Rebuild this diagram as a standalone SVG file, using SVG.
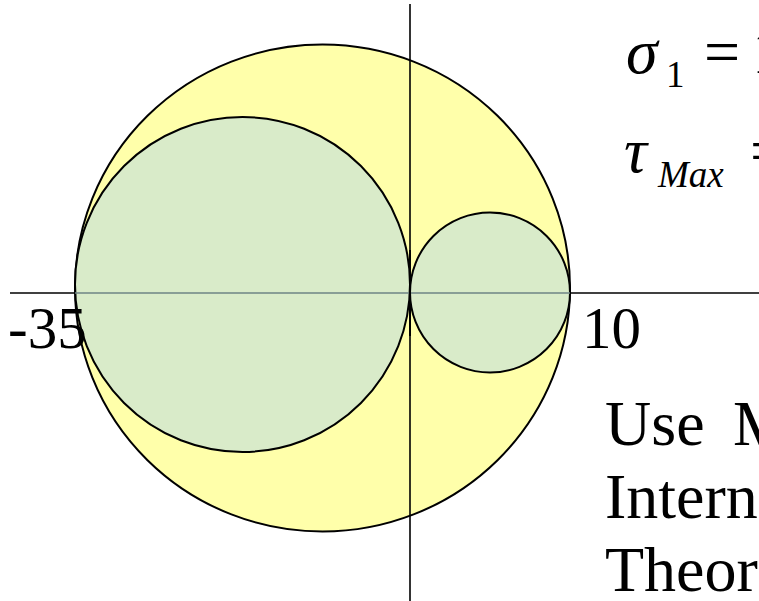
<svg xmlns="http://www.w3.org/2000/svg" width="759" height="601" viewBox="0 0 759 601">
<style>
.c{stroke:#000;stroke-width:2}
.y{fill:#ffffaa}
.g{fill:#d9ebc9}
.t{font-family:"Liberation Serif","Times New Roman",serif;fill:#000}
.i{font-style:italic}
.ax{stroke:#000;stroke-width:1.6}
</style>
<rect width="759" height="601" fill="#fff"/>
<g id="outer"><ellipse class="c y" cx="322.5" cy="288" rx="247.5" ry="243.5"/></g>
<g id="connectors">
<line class="ax" x1="410" y1="4" x2="410" y2="601"/>
<line class="ax" x1="10" y1="293" x2="759" y2="293"/>
</g>
<g id="bigcircle"><ellipse class="c g" cx="242.5" cy="284.5" rx="167.5" ry="167.5"/></g>
<g id="smallcircle"><ellipse class="c g" cx="490" cy="292.5" rx="80" ry="80"/></g>
<line x1="75" y1="293" x2="570" y2="293" stroke="#6e8585" stroke-width="1.6"/>
<line x1="410" y1="250" x2="410" y2="336" stroke="#000" stroke-width="2"/>
<g id="labels">
<text class="t" x="8" y="348" font-size="59">-35</text>
<text class="t" x="582" y="348" font-size="59">10</text>
<text class="t i" x="626" y="73" font-size="64">σ</text>
<text class="t" x="666" y="87" font-size="37">1</text>
<text class="t" x="704" y="73" font-size="64">=</text>
<text class="t" x="752" y="73" font-size="64">1</text>
<text class="t i" x="624" y="172" font-size="64">τ</text>
<text class="t i" x="658" y="187" font-size="37">Max</text>
<text class="t" x="750" y="172" font-size="64">=</text>
<text class="t" x="605" y="445" font-size="64">Use</text>
<text class="t" x="733" y="445" font-size="64">M</text>
<text class="t" x="605" y="518" font-size="64">Intern</text>
<text class="t" x="605" y="591" font-size="64">Theor</text>
</g>
</svg>
